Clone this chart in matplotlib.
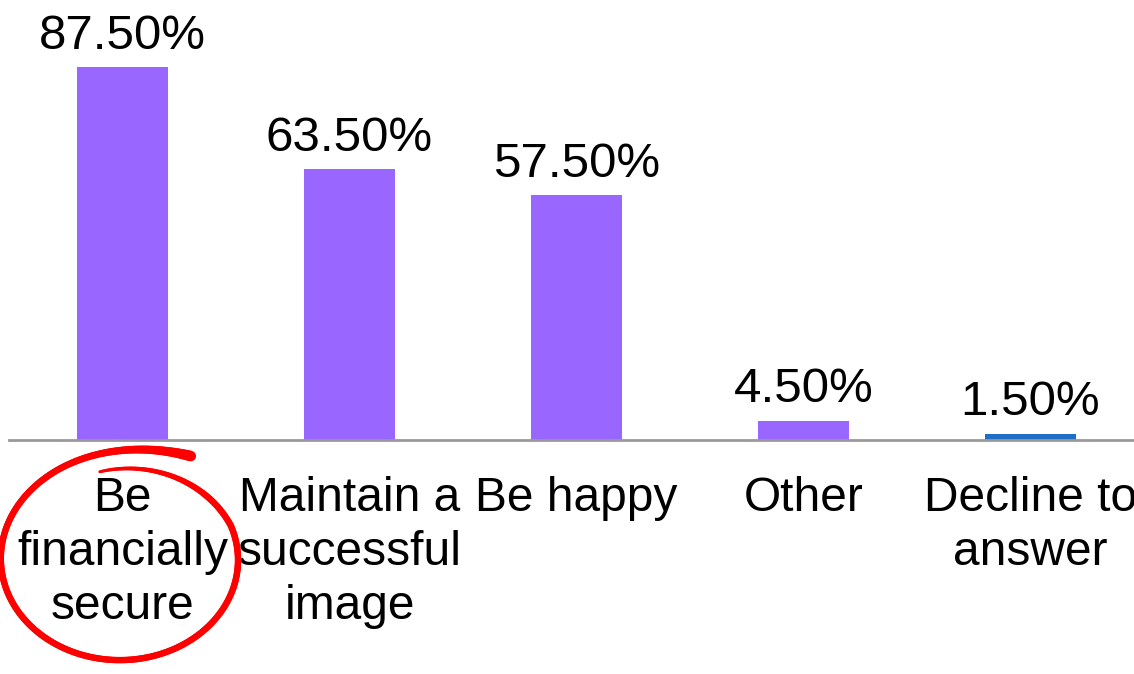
import numpy as np
import matplotlib
matplotlib.use("Agg")
import matplotlib.pyplot as plt
from matplotlib.collections import LineCollection

plt.rcParams['font.family'] = ['Liberation Sans', 'DejaVu Sans']

categories = ["Be\nfinancially\nsecure", "Maintain a\nsuccessful\nimage", "Be happy",
              "Other", "Decline to\nanswer"]
values = [87.5, 63.5, 57.5, 4.5, 1.5]
value_labels = ["87.50%", "63.50%", "57.50%", "4.50%", "1.50%"]
bar_colors = ["#9966FF", "#9966FF", "#9966FF", "#9966FF", "#1F6FC5"]

W, H = 1134, 674
fig = plt.figure(figsize=(W / 100, H / 100), dpi=100)
fig.patch.set_facecolor("white")

# axes spans x from -0.5 to 4.5 (227 px per category), baseline 440 px from top
left_px, base_px = 9, 440
px_per_unit = 373 / 87.5
ax = fig.add_axes([left_px / W, (H - base_px) / H, 227 * 5 / W, 100 * px_per_unit / H])
ax.set_xlim(-0.5, 4.5)
ax.set_ylim(0, 100)

x = np.arange(len(categories))
ax.bar(x, values, width=0.4, color=bar_colors, zorder=2)

for xi, v, lab in zip(x, values, value_labels):
    ax.annotate(lab, (xi, v), xytext=(0, 6), textcoords="offset points",
                ha="center", va="bottom", fontsize=35.5, color="black")

for s in ["top", "right", "left"]:
    ax.spines[s].set_visible(False)
ax.spines["bottom"].set_color("#999999")
ax.spines["bottom"].set_linewidth(2)
ax.spines["bottom"].set_zorder(3)
ax.set_yticks([])
ax.set_xticks(x)
ax.set_xticklabels(categories, fontsize=34.5, linespacing=1.26, multialignment="center")
ax.tick_params(axis="x", length=0, pad=26)

# hand-drawn red loop around the first category label (figure pixel coords)
cx, cy, rx, ry = 120, 560, 118, 100
phi = np.radians(np.linspace(60, 461, 400))
deg = np.degrees(phi)
scale = 1.0 + 0.2 * np.exp(-(deg - 60) / 40) - 0.1 * np.clip((deg - 380) / 80, 0, None)
px = cx + rx * scale * np.cos(phi)
py = cy - ry * scale * np.sin(phi)
pts = np.column_stack([px / W, 1 - py / H])
segs = np.stack([pts[:-1], pts[1:]], axis=1)
t = np.linspace(0, 1, len(segs))
widths = 4.6 + 3.0 * np.exp(-t / 0.05) - 2.5 * np.clip((t - 0.85) / 0.15, 0, None)
lc = LineCollection(segs, linewidths=widths, colors="#FF0000", capstyle="round",
                    transform=fig.transFigure)
fig.add_artist(lc)
fig.add_artist(plt.Line2D([69 / W], [1 - 650 / H], marker="o", markersize=2,
                          color="#FF0000", transform=fig.transFigure))

fig.savefig("out.png", dpi=100, facecolor="white")
